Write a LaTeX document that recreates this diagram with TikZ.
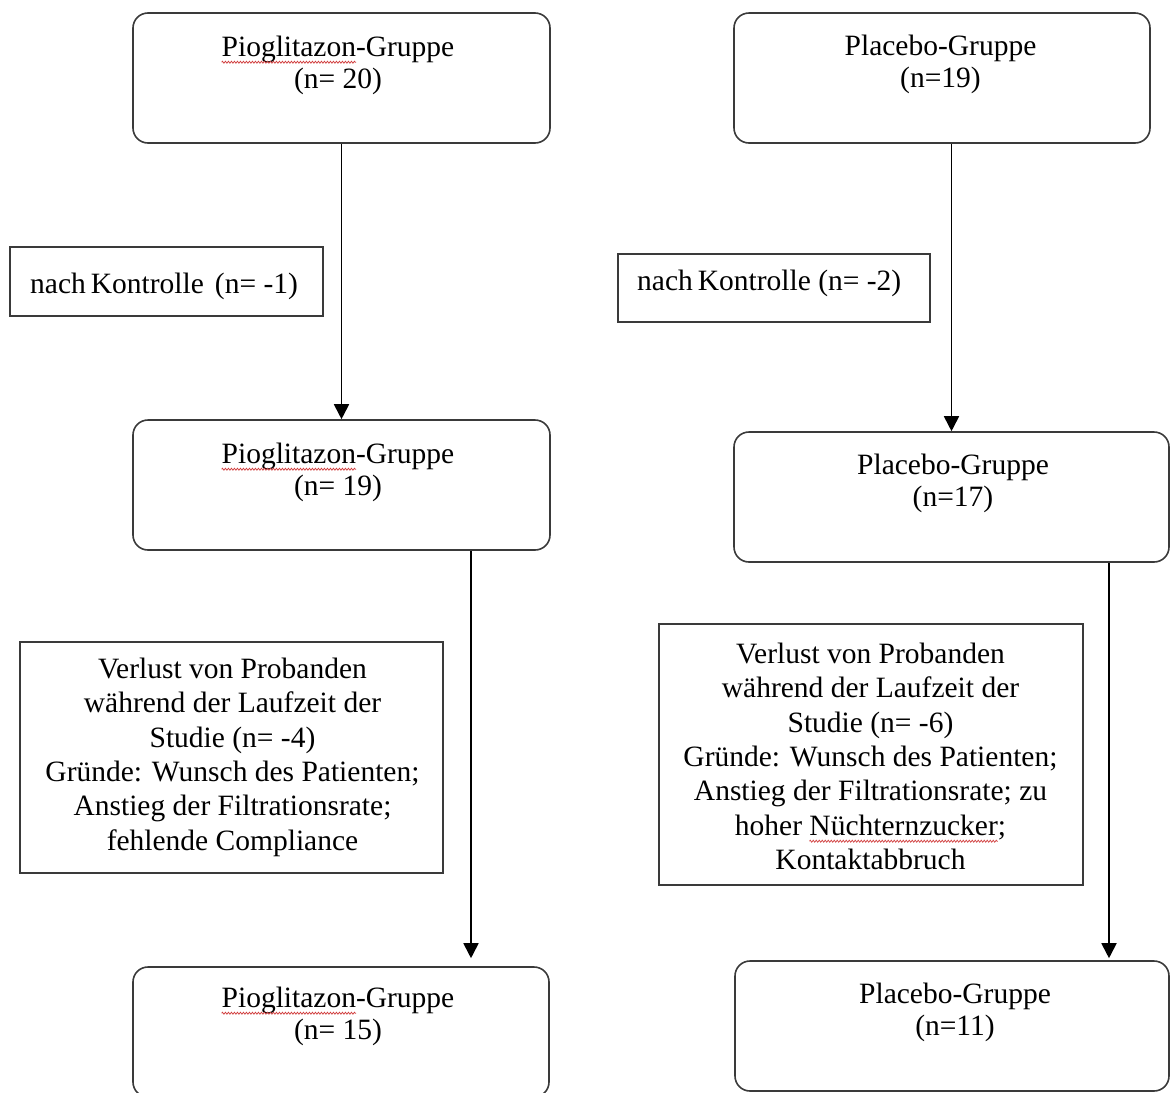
\documentclass[tikz,border=0pt]{standalone}
\usepackage{fontspec}
\setmainfont{Liberation Serif}
\usetikzlibrary{arrows.meta,decorations.pathmorphing}
\definecolor{edge}{HTML}{3A3A3A}
\definecolor{spell}{HTML}{D03A3A}
\newsavebox\spbox
\newcommand\spellmark[1]{\sbox\spbox{#1}\usebox\spbox\tikz[overlay,baseline=0pt]\draw[spell,line width=0.7pt,decorate,decoration={zigzag,segment length=3pt,amplitude=1pt}] (-\wd\spbox,-6pt) -- (0pt,-6pt);}
\begin{document}
\begin{tikzpicture}[x=1pt,y=-1pt,
  rbox/.style={draw=edge, line width=1.6pt, rounded corners=15pt, inner sep=0pt},
  sbox/.style={draw=edge, line width=1.6pt, inner sep=0pt},
  txt/.style={anchor=north, inner sep=0pt, align=center, font=\fontsize{29.5}{32}\selectfont},
  ltxt/.style={txt, font=\fontsize{29.5}{34.4}\selectfont},
  arr/.style={draw=black, line width=1.8pt, -{Triangle[width=15pt,length=15pt]}}
]
\useasboundingbox (0,0) rectangle (1171,1093);
% group boxes
\node[rbox, minimum width=417pt, minimum height=130pt] (a1) at (341.5,78) {};
\node[rbox, minimum width=416pt, minimum height=130pt] (b1) at (942,78) {};
\node[rbox, minimum width=417pt, minimum height=130pt] (a2) at (341.5,485) {};
\node[rbox, minimum width=435pt, minimum height=130pt] (b2) at (951.5,497) {};
\node[rbox, minimum width=416pt, minimum height=130pt] (a3) at (341,1032) {};
\node[rbox, minimum width=434pt, minimum height=130pt] (b3) at (952,1026) {};
% side boxes
\node[sbox, minimum width=313pt, minimum height=69pt] (k1) at (166.5,281.5) {};
\node[sbox, minimum width=312pt, minimum height=68pt] (k2) at (774,288) {};
\node[sbox, minimum width=423pt, minimum height=231pt] (v1) at (231.5,757.5) {};
\node[sbox, minimum width=424pt, minimum height=261pt] (v2) at (871,754.5) {};
% texts
\node[txt] (ta1) at (338,34) {\rule{0pt}{22pt}\spellmark{Pioglitazon}-Gruppe\\(n= 20)};
\node[txt] (tb1) at (940.5,33) {\rule{0pt}{22pt}Placebo-Gruppe\\(n=19)};
\node[txt] (ta2) at (338,441) {\rule{0pt}{22pt}\spellmark{Pioglitazon}-Gruppe\\(n= 19)};
\node[txt] (tb2) at (953,452) {\rule{0pt}{22pt}Placebo-Gruppe\\(n=17)};
\node[txt] (ta3) at (338,985) {\rule{0pt}{22pt}\spellmark{Pioglitazon}-Gruppe\\(n= 15)};
\node[txt] (tb3) at (955,981) {\rule{0pt}{22pt}Placebo-Gruppe\\(n=11)};
\node[txt, anchor=north west] (tk1) at (30,271) {\rule{0pt}{22pt}nach\hspace{5pt}Kontrolle\hspace{11pt}(n= -1)};
\node[txt, anchor=north west] (tk2) at (637,268) {\rule{0pt}{22pt}nach\hspace{5pt}Kontrolle (n= -2)};
\node[ltxt] (tv1) at (232.5,656) {\rule{0pt}{22pt}Verlust von Probanden\\während der Laufzeit der\\Studie (n= -4)\\Gründe: Wunsch des Patienten;\\Anstieg der Filtrationsrate;\\fehlende Compliance};
\node[ltxt] (tv2) at (870.5,641) {\rule{0pt}{22pt}Verlust von Probanden\\während der Laufzeit der\\Studie (n= -6)\\Gründe: Wunsch des Patienten;\\Anstieg der Filtrationsrate; zu\\hoher \spellmark{Nüchternzucker};\\Kontaktabbruch};
% connectors
\draw[arr] (a1.south) -- (a2.north);
\draw[arr] (b1.south -| b2.north) -- (b2.north);
\draw[arr] ([xshift=129.5pt]a2.south) -- ([xshift=130pt,yshift=8pt]a3.north);
\draw[arr] ([xshift=157.5pt]b2.south) -- ([xshift=157pt,yshift=2pt]b3.north);
\end{tikzpicture}
\end{document}
